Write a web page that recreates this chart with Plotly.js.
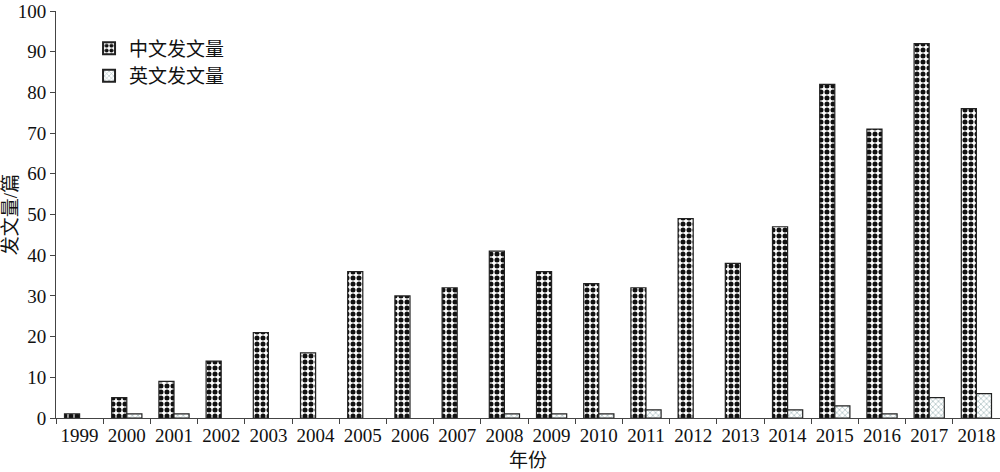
<!DOCTYPE html>
<html>
<head>
<meta charset="utf-8">
<script src="https://cdn.plot.ly/plotly-3.0.1.min.js"></script>
<style>html,body{margin:0;padding:0;background:#fff}#chart{width:1000px;height:472px}</style>
</head>
<body>
<div id="chart"></div>
<script>
const years = ['1999','2000','2001','2002','2003','2004','2005','2006','2007','2008','2009','2010','2011','2012','2013','2014','2015','2016','2017','2018'];
const chineseCount = [1,5,9,14,21,16,36,30,32,41,36,33,32,49,38,47,82,71,92,76];
const englishCount = [0,1,1,0,0,0,0,0,0,1,1,1,2,0,0,2,3,1,5,6];
const seriesNames = ['中文发文量','英文发文量'];
const yTicks = [0,10,20,30,40,50,60,70,80,90,100];

const fontFam = '"Liberation Serif", "Times New Roman", "Noto Sans CJK SC", serif';
const hideZero = v => (v === 0 ? null : v);

const traces = [
  {
    type: 'bar', x: years, y: chineseCount.map(hideZero), name: seriesNames[0],
    marker: {
      color: '#ffffff',
      line: {color: '#222', width: 1.2},
      pattern: {shape: '.', fgcolor: '#111', bgcolor: '#ffffff', size: 6, solidity: 0.55, fillmode: 'replace'}
    }
  },
  {
    type: 'bar', x: years, y: englishCount.map(hideZero), name: seriesNames[1],
    marker: {
      color: '#ffffff',
      line: {color: '#222', width: 1.2},
      pattern: {shape: 'x', fgcolor: '#9fb6ba', bgcolor: '#ffffff', size: 4, solidity: 0.3, fillmode: 'replace'}
    }
  }
];

const layout = {
  width: 1000, height: 472,
  margin: {l: 56, r: 0, t: 11, b: 54},
  paper_bgcolor: '#fff', plot_bgcolor: '#fff',
  font: {family: fontFam, size: 19, color: '#111'},
  barmode: 'group',
  bargap: 0.36,
  bargroupgap: 0,
  showlegend: true,
  legend: {
    x: 0.035, y: 0.955, xanchor: 'left', yanchor: 'top',
    bgcolor: 'rgba(0,0,0,0)',
    font: {family: fontFam, size: 19, color: '#111'},
    itemsizing: 'constant', tracegroupgap: 4
  },
  xaxis: {
    type: 'category',
    tickvals: years, ticktext: years,
    tickson: 'boundaries',
    tickangle: 0,
    ticks: 'outside', ticklen: 5, tickcolor: '#444', tickwidth: 1,
    showline: true, linecolor: '#444', linewidth: 1,
    showgrid: false, zeroline: false,
    tickfont: {family: fontFam, size: 19, color: '#111'},
    title: {text: '年份', font: {family: fontFam, size: 19, color: '#111'}, standoff: 8}
  },
  yaxis: {
    range: [0, 100.01],
    tickvals: yTicks,
    ticklabeloverflow: 'allow',
    ticks: 'outside', ticklen: 5, tickcolor: '#444', tickwidth: 1,
    showline: true, linecolor: '#444', linewidth: 1,
    showgrid: false, zeroline: false,
    tickfont: {family: fontFam, size: 19, color: '#111'},
    title: {text: '发文量/篇', font: {family: fontFam, size: 19, color: '#111'}, standoff: 6}
  }
};

Plotly.newPlot('chart', traces, layout, {displayModeBar: false, staticPlot: true});
</script>
</body>
</html>
